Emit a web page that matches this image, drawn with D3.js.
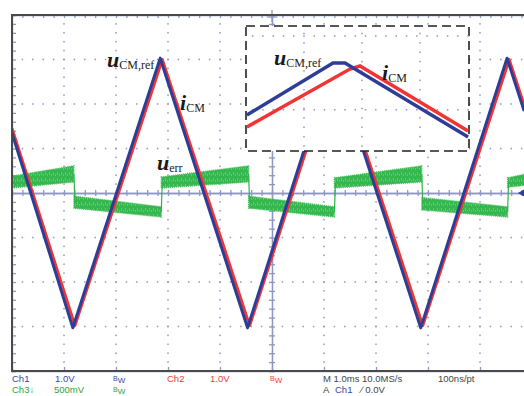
<!DOCTYPE html>
<html lang="en">
<head>
    <meta charset="UTF-8">
    <title>Scope capture: uCM,ref, iCM and uerr</title>
    <script src="https://d3js.org/d3.v7.min.js"></script>
    <style>
        body { margin: 0; background: #fff; }
        svg { display: block; }
    </style>
</head>
<body>
    <svg id="scope"></svg>
    <script>
        // time in ms (1.0 ms/div), level in divisions
        var refT = [0, 1.17, 2.85, 4.53, 6.18, 7.86, 9.52, 9.85];
        var refV = [1.35, -3.03, 3.03, -3.03, 3.03, -3.03, 3.03, 1.84];
        var curT = [0, 1.21, 2.89, 4.57, 6.22, 7.90, 9.56, 9.85];
        var curV = [1.45, -2.98, 3.00, -2.98, 3.00, -2.98, 3.00, 1.97];

        // u_err noise band, one entry per segment
        var errT0 = [0, 1.19, 2.87, 4.55, 6.20, 7.88, 9.53];
        var errT1 = [1.19, 2.87, 4.55, 6.20, 7.88, 9.53, 9.85];
        var errTop0 = [0.38, -0.07, 0.36, -0.07, 0.34, -0.10, 0.34];
        var errBot0 = [0.11, -0.34, 0.11, -0.34, 0.11, -0.38, 0.13];
        var errTop1 = [0.61, -0.31, 0.61, -0.31, 0.61, -0.31, 0.42];
        var errBot1 = [0.25, -0.54, 0.25, -0.54, 0.25, -0.54, 0.17];

        // zoomed inset, % of the box
        var zRefX = [0.4, 39.0, 44.4, 99.6];
        var zRefY = [28.8, 70.4, 70.4, 11.2];
        var zCurX = [0.4, 46.6, 51.1, 99.6];
        var zCurY = [19.2, 65.6, 68.0, 16.0];

        var statusRow1 = [["Ch1", "#3a48a0"], ["1.0V", "#3a48a0"], ["BW", "#3a48a0"], ["Ch2", "#ee3b3b"], ["1.0V", "#ee3b3b"], ["BW", "#ee3b3b"], ["M 1.0ms 10.0MS/s", "#444"], ["100ns/pt", "#444"]];
        var statusRow2 = [["Ch3\u2193", "#25a83e"], ["500mV", "#25a83e"], ["BW", "#25a83e"], ["A", "#444"], ["Ch1", "#3a48a0"], ["\u2215 0.0V", "#444"]];

        var margin = { top: 15, left: 12 },
            width = 520,
            height = 356;
        var gridCol = "#8e97c3";

        var svg = d3.select("#scope")
                    .attr("width", 524)
                    .attr("height", 396);

        var defs = svg.append("defs");
        defs.append("clipPath").attr("id", "plotclip")
            .append("rect").attr("x", 0).attr("y", 0).attr("width", width).attr("height", height);
        var pat = defs.append("pattern").attr("id", "noise")
            .attr("width", 4).attr("height", 6).attr("patternUnits", "userSpaceOnUse");
        pat.append("rect").attr("width", 4).attr("height", 6).attr("fill", "#36b64f");
        pat.append("rect").attr("x", 1).attr("y", 1).attr("width", 1).attr("height", 3).attr("fill", "#62c973");
        pat.append("rect").attr("x", 3).attr("y", 3).attr("width", 1).attr("height", 2).attr("fill", "#62c973");

        var g = svg.append("g")
                   .attr("transform", "translate(" + margin.left + "," + margin.top + ")");

        var x = d3.scaleLinear().domain([0, 10]).range([0, width]);
        var y = d3.scaleLinear().domain([-4, 4]).range([height, 0]);

        // dotted graticule
        var dots = g.append("g").attr("fill", gridCol);
        d3.range(1, 10).forEach(function(k) {
            if (k === 5) return;
            d3.range(-4, 4.01, 0.2).forEach(function(v) {
                dots.append("rect").attr("x", x(k) - 0.75).attr("y", y(v) - 0.75).attr("width", 1.5).attr("height", 1.5);
            });
        });
        d3.range(-3, 4).forEach(function(k) {
            if (k === 0) return;
            d3.range(0, 10.01, 0.2).forEach(function(t) {
                dots.append("rect").attr("x", x(t) - 0.75).attr("y", y(k) - 0.75).attr("width", 1.5).attr("height", 1.5);
            });
        });

        // centre cross with minor ticks
        var minorX = d3.range(0, 10.01, 0.2), minorY = d3.range(-4, 4.01, 0.2);
        g.append("g").attr("transform", "translate(0," + y(0) + ")")
         .call(d3.axisBottom(x).tickValues(minorX).tickSize(3).tickFormat(""));
        g.append("g").attr("transform", "translate(0," + y(0) + ")")
         .call(d3.axisTop(x).tickValues(minorX).tickSize(3).tickFormat(""));
        g.append("g").attr("transform", "translate(" + x(5) + ",0)")
         .call(d3.axisLeft(y).tickValues(minorY).tickSize(3).tickFormat(""));
        g.append("g").attr("transform", "translate(" + x(5) + ",0)")
         .call(d3.axisRight(y).tickValues(minorY).tickSize(3).tickFormat(""));
        // edge ticks
        g.append("g").call(d3.axisBottom(x).tickValues(minorX).tickSize(3).tickFormat(""));
        g.append("g").call(d3.axisRight(y).tickValues(minorY).tickSize(4).tickFormat(""));
        g.append("g").attr("transform", "translate(0," + height + ")")
         .call(d3.axisTop(x).tickValues(d3.range(1, 10)).tickSize(4).tickFormat(""));
        g.selectAll(".domain, .tick line").attr("stroke", gridCol).attr("stroke-width", 1.3);
        g.append("line").attr("x1", x(5)).attr("x2", x(5)).attr("y1", -5).attr("y2", 7)
         .attr("stroke", gridCol).attr("stroke-width", 1.3);
        g.append("line").attr("x1", x(4.9)).attr("x2", x(5.1)).attr("y1", 2).attr("y2", 2)
         .attr("stroke", gridCol).attr("stroke-width", 1.3);

        var plot = g.append("g").attr("clip-path", "url(#plotclip)");

        // u_err band
        var errSegs = errT0.map(function(t, i) {
            return [{ t: t, hi: errTop0[i], lo: errBot0[i] }, { t: errT1[i], hi: errTop1[i], lo: errBot1[i] }];
        });
        var band = d3.area()
                     .x(function(d) { return x(d.t); })
                     .y0(function(d) { return y(d.lo); })
                     .y1(function(d) { return y(d.hi); });
        errSegs.forEach(function(seg, i) {
            plot.append("path").datum(seg)
                .attr("fill", "url(#noise)")
                .attr("stroke", "#48c05e").attr("stroke-width", 1.4)
                .attr("stroke-dasharray", "1,1")
                .attr("d", band);
            if (i > 0) {
                var prev = errSegs[i - 1][1];
                plot.append("line")
                    .attr("x1", x(prev.t)).attr("y1", y((prev.hi + prev.lo) / 2))
                    .attr("x2", x(seg[0].t) + 1).attr("y2", y((seg[0].hi + seg[0].lo) / 2))
                    .attr("stroke", "#2fb24a").attr("stroke-width", 1.2);
            }
        });

        var line = d3.line()
                     .x(function(d) { return x(d[0]); })
                     .y(function(d) { return y(d[1]); });

        plot.append("path")
            .datum(d3.zip(curT, curV))
            .attr("fill", "none").attr("stroke", "#f23434").attr("stroke-width", 3)
            .attr("stroke-linejoin", "round")
            .attr("d", line);
        plot.append("path")
            .datum(d3.zip(refT, refV))
            .attr("fill", "none").attr("stroke", "#2d3e96").attr("stroke-width", 3)
            .attr("stroke-linejoin", "round")
            .attr("d", line);

        // channel 1 level marker
        g.append("path")
         .attr("d", "M" + (width - 14) + "," + y(0) + "l7,-4v8z")
         .attr("fill", "#2d3e96");

        // frame
        g.append("path")
         .attr("d", "M" + width + ",0H0V" + height + "H" + width)
         .attr("fill", "none").attr("stroke", "#4a4a4a").attr("stroke-width", 2);

        // inset
        var xi = d3.scaleLinear().domain([0, 100]).range([234, 457]);
        var yi = d3.scaleLinear().domain([0, 100]).range([136, 11]);
        var inset = g.append("g");
        inset.append("rect")
             .attr("x", xi(0)).attr("y", yi(100))
             .attr("width", xi(100) - xi(0)).attr("height", yi(0) - yi(100))
             .attr("fill", "#fff").attr("stroke", "#222")
             .attr("stroke-width", 1.6).attr("stroke-dasharray", "9,5");
        var idots = inset.append("g").attr("fill", gridCol);
        [26, 52, 78].forEach(function(px) {
            d3.range(4, 100, 7.5).forEach(function(py) {
                idots.append("rect").attr("x", xi(px) - 0.75).attr("y", yi(py) - 0.75).attr("width", 1.5).attr("height", 1.5);
            });
        });
        [33, 92].forEach(function(py) {
            d3.range(3, 100, 4.6).forEach(function(px) {
                idots.append("rect").attr("x", xi(px) - 0.75).attr("y", yi(py) - 0.75).attr("width", 1.5).attr("height", 1.5);
            });
        });
        var iline = d3.line()
                      .x(function(d) { return xi(d[0]); })
                      .y(function(d) { return yi(d[1]); });
        inset.append("path").datum(d3.zip(zCurX, zCurY))
             .attr("fill", "none").attr("stroke", "#f23434").attr("stroke-width", 3.5)
             .attr("d", iline);
        inset.append("path").datum(d3.zip(zRefX, zRefY))
             .attr("fill", "none").attr("stroke", "#2d3e96").attr("stroke-width", 3.5)
             .attr("d", iline);

        // labels
        function label(px, py, main, sub) {
            var t = svg.append("text").attr("x", px).attr("y", py)
                       .attr("font-family", "Liberation Serif, serif").attr("fill", "#1a1a1a");
            t.append("tspan").attr("font-size", 22).attr("font-style", "italic").attr("font-weight", "bold").text(main);
            t.append("tspan").attr("font-size", 12).attr("dy", 2).text(sub);
        }
        label(107, 67, "u", "CM,ref");
        label(180, 110, "i", "CM");
        label(157, 170, "u", "err");
        label(274, 65, "u", "CM,ref");
        label(382, 80, "i", "CM");

        // status line
        var col1 = [12, 55, 113, 167, 210, 270, 323, 438];
        var col2 = [12, 54, 113, 323, 335, 361];
        function status(row, cols, py) {
            row.forEach(function(d, i) {
                var t = svg.append("text").attr("x", cols[i]).attr("y", py)
                           .attr("font-family", "Liberation Sans, Arial, sans-serif")
                           .attr("font-size", 9.5).attr("fill", d[1]);
                if (d[0] === "BW") {
                    t.append("tspan").attr("font-size", 7).attr("dy", -1).text("B");
                    t.append("tspan").attr("font-size", 8).attr("dy", 2).text("W");
                } else {
                    t.text(d[0]);
                }
            });
        }
        status(statusRow1, col1, 382);
        status(statusRow2, col2, 393);
    </script>
</body>
</html>
